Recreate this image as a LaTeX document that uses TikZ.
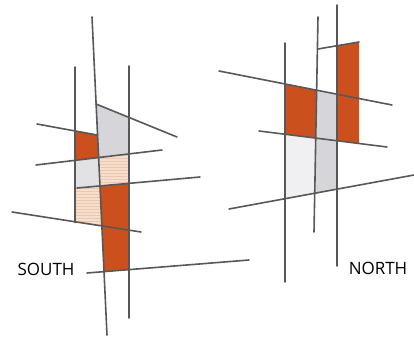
\documentclass[tikz,border=0pt]{standalone}
\usepackage{fontspec}
\setmainfont{Open Sans}
\definecolor{rust}{RGB}{203,80,30}
\definecolor{peach}{RGB}{247,221,204}
\definecolor{peachline}{RGB}{235,200,178}
\definecolor{lgray}{RGB}{214,214,218}
\definecolor{vlgray}{RGB}{240,240,242}
\definecolor{stroke}{RGB}{88,88,88}
\tikzset{
  ln/.style={draw=stroke, line width=1.6pt, line cap=round},
  label/.style={font=\fontsize{17}{17}\selectfont, text=black, inner sep=0pt}
}
\begin{document}
\begin{tikzpicture}[x=1pt,y=-1pt]
\useasboundingbox (0,0) rectangle (414,339);
% ---- SOUTH fills
\fill[lgray] (96,104) -- (129,117.6) -- (129,153.9) -- (98.6,157.5) -- cycle;
\fill[rust] (75,131) -- (97.6,135.1) -- (98.6,157.5) -- (75,160.4) -- cycle;
\fill[lgray!70] (75,160.4) -- (98.6,157.5) -- (100,185.9) -- (75,188.2) -- cycle;
\fill[peach] (98.6,157.5) -- (129,153.9) -- (129,183.4) -- (100,185.9) -- cycle;
\fill[peach] (75,188.2) -- (100,185.9) -- (101.9,225.9) -- (75,222.5) -- cycle;
\begin{scope}
\clip (98.6,157.5) -- (129,153.9) -- (129,183.4) -- (100,185.9) -- cycle
      (75,188.2) -- (100,185.9) -- (101.9,225.9) -- (75,222.5) -- cycle;
\foreach \yy in {152,155,...,228} \draw[peachline, line width=0.5pt] (70,\yy) -- (135,\yy);
\end{scope}
\fill[rust] (100,185.9) -- (129,183.4) -- (129,269.6) -- (104,271.6) -- cycle;
% ---- NORTH fills
\fill[rust] (285,84) -- (316.8,90.2) -- (315.7,138.1) -- (285,134.3) -- cycle;
\fill[rust] (337,45.8) -- (359,42) -- (359,143.5) -- (337,140.75) -- cycle;
\fill[lgray] (316.8,90.2) -- (337,94.2) -- (337,189.1) -- (314.3,193.3) -- cycle;
\fill[vlgray] (285,134.3) -- (315.7,138.1) -- (314.3,193.3) -- (285,198.7) -- cycle;
% ---- SOUTH lines
\coordinate (a1) at (92,17);   \coordinate (a2) at (107,335);
\coordinate (b1) at (75,67);   \coordinate (b2) at (75,222.5);
\coordinate (c1) at (129,66);  \coordinate (c2) at (129,318);
\coordinate (d1) at (96,104);  \coordinate (d2) at (177,137);
\coordinate (e1) at (37,124);  \coordinate (e2) at (97.6,135.1);
\coordinate (f1) at (36,165);  \coordinate (f2) at (162,150);
\coordinate (g1) at (77,188);  \coordinate (g2) at (200,177);
\coordinate (h1) at (12,212);  \coordinate (h2) at (141,232);
\coordinate (i1) at (87,273);  \coordinate (i2) at (249,260);
\foreach \p in {a,b,c,d,e,f,g,h,i} \draw[ln] (\p1) -- (\p2);
% ---- NORTH lines
\coordinate (n11) at (285,43);  \coordinate (n12) at (285,282);
\coordinate (n21) at (318,17);  \coordinate (n22) at (314,232);
\coordinate (n31) at (337,5);   \coordinate (n32) at (337,266);
\coordinate (n41) at (219,71);  \coordinate (n42) at (392,105);
\coordinate (n51) at (259,131); \coordinate (n52) at (387,147);
\coordinate (n61) at (229,209); \coordinate (n62) at (414,175);
\coordinate (n71) at (318,49);  \coordinate (n72) at (359,42);
\foreach \p in {n1,n2,n3,n4,n5,n6,n7} \draw[ln] (\p1) -- (\p2);
% ---- labels
\node[label] (south) at (46,269.5) {SOUTH};
\node[label] (north) at (378,268.5) {NORTH};
\end{tikzpicture}
\end{document}
